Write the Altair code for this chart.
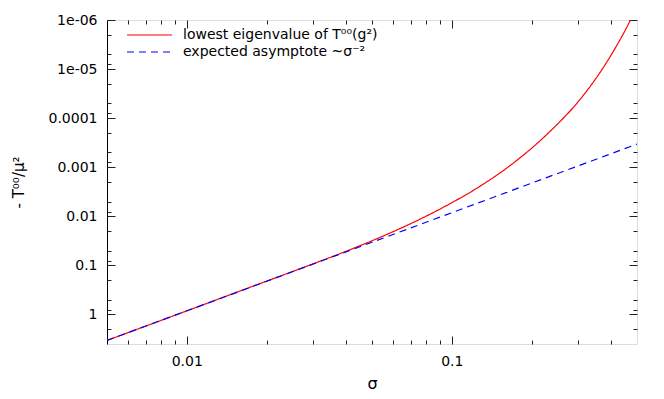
import altair as alt
import pandas as pd

# ---- data ----
series_names = ["lowest eigenvalue of T⁰⁰(g²)", "expected asymptote ~σ⁻²"]

red_sigma = [0.005, 0.01, 0.01728, 0.03088, 0.04126, 0.05357, 0.07159, 0.09574,
             0.1279, 0.1710, 0.2287, 0.3056, 0.3533, 0.4083, 0.4721, 0.5]
red_value = [3.38, 0.845, 0.2812, 0.08759, 0.04809, 0.02692, 0.01333, 0.006013,
             0.002435, 0.000818, 0.0002133, 4.086e-5, 1.444e-5, 4.233e-6, 9.96e-7, 5.0e-7]

blue_sigma = [0.005, 0.05, 0.5]
blue_value = [3.38, 0.0338, 0.000338]

x_major = [0.01, 0.1]
x_major_text = ["0.01", "0.1"]
x_minor = [0.006, 0.007, 0.008, 0.009, 0.02, 0.03, 0.04, 0.05, 0.06, 0.07, 0.08,
           0.09, 0.2, 0.3, 0.4]

y_major = [1e-6, 1e-5, 1e-4, 1e-3, 0.01, 0.1, 1]
y_major_text = ["1e-06", "1e-05", "0.0001", "0.001", "0.01", "0.1", "1"]
y_minor = [2e-6, 5e-6, 8e-6, 2e-5, 5e-5, 8e-5, 2e-4, 5e-4, 8e-4, 2e-3, 5e-3, 8e-3,
           0.02, 0.05, 0.08, 0.2, 0.5, 0.8, 2]

rows = []
for s, v in zip(red_sigma, red_value):
    rows.append({"sigma": s, "value": v, "series": series_names[0]})
for s, v in zip(blue_sigma, blue_value):
    rows.append({"sigma": s, "value": v, "series": series_names[1]})
df = pd.DataFrame(rows)


def label_expr(vals, texts):
    expr = "''"
    for v, t in reversed(list(zip(vals, texts))):
        expr = f"datum.value < {v * 2.5} ? '{t}' : ({expr})"
    return expr


FONT = "DejaVu Sans"
xs = alt.Scale(type="log", domain=[0.005, 0.5], nice=False)
ys = alt.Scale(type="log", domain=[1e-6, 4], reverse=True, nice=False)

x_label_axis = alt.Axis(orient="bottom", values=x_major, ticks=False, domain=False,
                        grid=False, labelExpr=label_expr(x_major, x_major_text),
                        labelPadding=10, labelFontSize=14, labelFont=FONT,
                        labelColor="black", title="σ", titleFont=FONT,
                        titleFontSize=16, titleFontWeight="normal",
                        titleX=265, titleY=44, titleBaseline="alphabetic",
                        titleAlign="center", titleColor="black")
y_label_axis = alt.Axis(orient="left", values=y_major, ticks=False, domain=True,
                        domainColor="black", grid=False,
                        labelExpr=label_expr(y_major, y_major_text),
                        labelPadding=10, labelFontSize=14, labelFont=FONT,
                        labelColor="black", title="- T⁰⁰/μ²", titleFont=FONT,
                        titleFontSize=15, titleFontWeight="normal",
                        titleX=-84, titleY=162, titleBaseline="alphabetic",
                        titleAlign="center", titleAngle=270, titleColor="black")


def tick_axis(orient, vals, size):
    return alt.Axis(orient=orient, values=vals, ticks=True, tickSize=size,
                    offset=-size, labels=False, domain=False, grid=False,
                    tickColor="#222222", tickWidth=1)


def make_legend():
    return alt.Legend(orient="none", legendX=19, legendY=6.5, title=None,
                      symbolType="stroke", symbolSize=2025, symbolStrokeWidth=1.2,
                      labelFontSize=14, labelFont=FONT, labelColor="black",
                      labelOffset=10, labelLimit=500, padding=0, rowPadding=0,
                      clipHeight=17)


lines = alt.Chart(df).mark_line(clip=True, strokeWidth=1.2, interpolate="monotone").encode(
    x=alt.X("sigma:Q", scale=xs, axis=x_label_axis),
    y=alt.Y("value:Q", scale=ys, axis=y_label_axis),
    color=alt.Color("series:N",
                    scale=alt.Scale(domain=series_names, range=["#ff0000", "#0000ff"]),
                    legend=make_legend()),
    strokeDash=alt.StrokeDash("series:N",
                              scale=alt.Scale(domain=series_names, range=[[1, 0], [7, 5]]),
                              legend=make_legend()),
    detail="series:N",
)

axis_layers = []
for xo, yo, xv, yv, size in [
    ("bottom", "left", x_major, y_major, 8),
    ("bottom", "left", x_minor, y_minor, 4),
    ("top", "right", x_major, y_major, 8),
    ("top", "right", x_minor, y_minor, 4),
]:
    axis_layers.append(
        alt.Chart(df).mark_point(opacity=0).encode(
            x=alt.X("sigma:Q", scale=xs, axis=tick_axis(xo, xv, size), title=None),
            y=alt.Y("value:Q", scale=ys, axis=tick_axis(yo, yv, size), title=None),
        )
    )

chart = alt.layer(lines, *axis_layers).resolve_axis(
    x="independent", y="independent"
).properties(
    width=530, height=324,
    autosize=alt.AutoSizeParams(type="none"),
    padding={"left": 99, "top": 12, "right": 19, "bottom": 47},
).configure_view(stroke="#808080", strokeWidth=1).configure(font=FONT)

chart.save("out.html", embed_options={"renderer": "svg", "actions": False})
